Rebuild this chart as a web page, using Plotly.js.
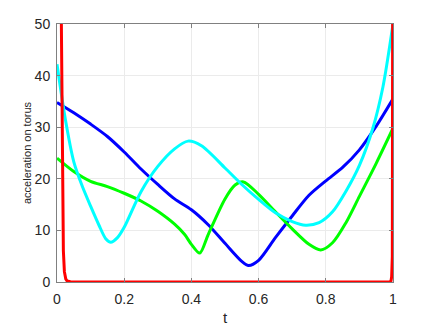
<!DOCTYPE html>
<html>
<head>
<meta charset="utf-8">
<script src="https://cdn.plot.ly/plotly-3.0.1.min.js"></script>
<style>
  body { margin: 0; background: #fff; }
  #plot { width: 436px; height: 327px; }
</style>
</head>
<body>
<div id="plot"></div>
<script>
// values
var tBlue  = [0, 0.05, 0.1, 0.15, 0.2, 0.25, 0.3, 0.35, 0.4, 0.45, 0.5, 0.55, 0.57, 0.6, 0.65, 0.7, 0.75, 0.8, 0.85, 0.9, 0.95, 1];
var accBlue = [34.8, 32.8, 30.6, 28.2, 25.2, 21.9, 18.9, 16.1, 14.0, 11.1, 7.5, 4.0, 3.2, 4.2, 8.6, 12.8, 16.8, 19.6, 22.2, 25.6, 30.2, 35.5];

var tGreen  = [0, 0.05, 0.1, 0.15, 0.2, 0.25, 0.3, 0.35, 0.38, 0.4, 0.425, 0.45, 0.5, 0.53, 0.555, 0.6, 0.65, 0.7, 0.75, 0.785, 0.82, 0.86, 0.9, 0.95, 1];
var accGreen = [24.0, 21.4, 19.5, 18.5, 17.2, 15.7, 13.7, 11.2, 9.2, 7.3, 5.6, 9.2, 16.1, 18.8, 19.4, 17.0, 13.6, 10.3, 7.3, 6.2, 7.6, 11.5, 16.6, 23.0, 29.8];

var tCyan  = [0, 0.025, 0.05, 0.075, 0.1, 0.125, 0.145, 0.16, 0.18, 0.2, 0.25, 0.3, 0.35, 0.39, 0.43, 0.5, 0.55, 0.6, 0.65, 0.7, 0.74, 0.78, 0.82, 0.86, 0.9, 0.94, 0.97, 1];
var accCyan = [42.2, 31.5, 23.3, 18.6, 14.7, 11.0, 8.4, 7.7, 8.6, 10.6, 17.5, 22.4, 25.8, 27.3, 26.4, 22.1, 18.9, 16.0, 13.4, 11.7, 11.0, 11.5, 13.6, 17.6, 22.6, 29.8, 37.8, 50.0];

var tRed  = [0, 0.005, 0.01, 0.013, 0.016, 0.019, 0.022, 0.026, 0.03, 0.04, 0.5, 0.99, 0.994, 0.996, 0.998, 1];
var accRed = [400, 200, 80, 50, 20, 6, 2, 0.6, 0.2, 0.05, 0, 0, 0.2, 1, 5, 100];

var xTicks = [0, 0.2, 0.4, 0.6, 0.8, 1];
var yTicks = [0, 10, 20, 30, 40, 50];

function curve(x, y, col, shape) {
  return {
    x: x,
    y: y,
    type: 'scatter',
    mode: 'lines',
    line: { color: col, width: 3, shape: shape, smoothing: 0.8 },
    hoverinfo: 'none'
  };
}

var data = [
  curve(tBlue, accBlue, '#0000ff', 'spline'),
  curve(tGreen, accGreen, '#00ff00', 'spline'),
  curve(tCyan, accCyan, '#00ffff', 'spline'),
  curve(tRed, accRed, '#ff0000', 'linear')
];

var axisStyle = {
  showline: true,
  linecolor: '#808080',
  linewidth: 1,
  mirror: 'ticks',
  ticks: 'inside',
  ticklen: 4,
  tickcolor: '#808080',
  showgrid: true,
  gridcolor: '#ebebeb',
  gridwidth: 1,
  zeroline: false,
  tickfont: { family: 'Liberation Sans, Arial, sans-serif', size: 14, color: '#262626' }
};

var layout = {
  width: 436,
  height: 327,
  margin: { l: 57, r: 43, t: 24, b: 45 },
  paper_bgcolor: '#ffffff',
  plot_bgcolor: '#ffffff',
  showlegend: false,
  xaxis: Object.assign({}, axisStyle, {
    range: [0, 1],
    tickvals: xTicks,
    ticktext: ['0', '0.2', '0.4', '0.6', '0.8', '1'],
    ticklabelstandoff: 4,
    automargin: false,
    title: { text: 't', standoff: 6, font: { family: 'Liberation Sans, Arial, sans-serif', size: 15, color: '#262626' } }
  }),
  yaxis: Object.assign({}, axisStyle, {
    range: [0, 50],
    tickvals: yTicks,
    ticklabelstandoff: 3,
    automargin: false,
    title: { text: 'acceleration on torus', standoff: 0, font: { family: 'Liberation Sans, Arial, sans-serif', size: 11, color: '#262626' } }
  })
};

Plotly.newPlot('plot', data, layout, { staticPlot: true, displayModeBar: false });
</script>
</body>
</html>
